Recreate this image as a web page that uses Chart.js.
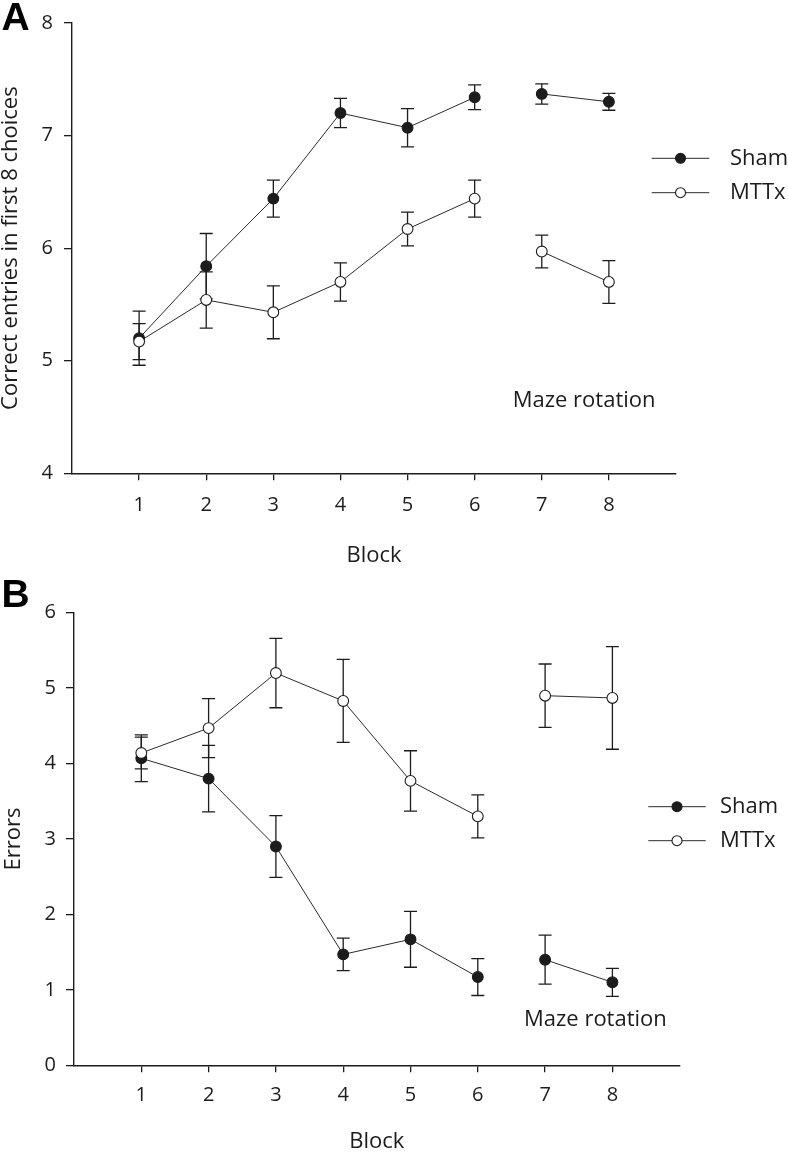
<!DOCTYPE html>
<html>
<head>
<meta charset="utf-8">
<script src="https://cdn.jsdelivr.net/npm/chart.js@4.4.0/dist/chart.umd.min.js"></script>
<style>
body { margin: 0; background: #fff; }
#wrap { position: relative; width: 788px; height: 1152px; }
canvas { position: absolute; left: 0; }
</style>
</head>
<body>
<div id="wrap">
<canvas id="chartA" width="788" height="576" style="top:0px"></canvas>
<canvas id="chartB" width="788" height="576" style="top:576px"></canvas>
</div>
<script>
// data
var blocks = [1, 2, 3, 4, 5, 6, 7, 8]
var seriesNames = ["Sham", "MTTx"]
var gapAfterBlock = 6 // line broken before the maze rotation blocks

// panel A: correct entries in first 8 choices (mean, sem)
var shamCorrect = [5.20, 5.84, 6.44, 7.20, 7.07, 7.34, 7.37, 7.30]
var shamCorrectSem = [0.24, 0.29, 0.165, 0.13, 0.17, 0.11, 0.09, 0.075]
var mttxCorrect = [5.17, 5.54, 5.43, 5.70, 6.17, 6.44, 5.97, 5.70]
var mttxCorrectSem = [0.16, 0.25, 0.235, 0.17, 0.15, 0.165, 0.145, 0.19]

// panel B: errors (mean, sem)
var shamErrors = [4.07, 3.80, 2.90, 1.47, 1.67, 1.17, 1.40, 1.10]
var shamErrorsSem = [0.31, 0.44, 0.41, 0.215, 0.37, 0.245, 0.325, 0.185]
var mttxErrors = [4.14, 4.47, 5.20, 4.83, 3.77, 3.30, 4.90, 4.87]
var mttxErrorsSem = [0.21, 0.39, 0.46, 0.55, 0.40, 0.285, 0.42, 0.68]

var ink = '#1c1c1c'
var font = "'Open Sans', sans-serif"

// error bars, drawn under lines and points
var errorBars = {
	id: 'errorBars',
	beforeDatasetsDraw: function (chart, args, opts) {
		var ctx = chart.ctx
		var yScale = chart.scales.y
		chart.data.datasets.forEach(function (ds, i) {
			var meta = chart.getDatasetMeta(i)
			ctx.save()
			ctx.strokeStyle = opts.color
			ctx.lineWidth = opts.width
			meta.data.forEach(function (pt, j) {
				var v = ds.data[j].y
				var e = ds.errors[j]
				var top = yScale.getPixelForValue(v + e)
				var bot = yScale.getPixelForValue(v - e)
				ctx.beginPath()
				ctx.moveTo(pt.x, top)
				ctx.lineTo(pt.x, bot)
				ctx.moveTo(pt.x - opts.cap, top)
				ctx.lineTo(pt.x + opts.cap, top)
				ctx.moveTo(pt.x - opts.cap, bot)
				ctx.lineTo(pt.x + opts.cap, bot)
				ctx.stroke()
			})
			ctx.restore()
		})
	}
}

// legend with a line through the marker
var lineLegend = {
	id: 'lineLegend',
	afterDraw: function (chart, args, opts) {
		var ctx = chart.ctx
		chart.data.datasets.forEach(function (ds, k) {
			var y = opts.y + k * opts.rowGap
			var cx = opts.x + opts.lineLength / 2
			ctx.save()
			ctx.strokeStyle = ds.borderColor
			ctx.lineWidth = ds.borderWidth
			ctx.beginPath()
			ctx.moveTo(opts.x, y)
			ctx.lineTo(opts.x + opts.lineLength, y)
			ctx.stroke()
			ctx.beginPath()
			ctx.arc(cx, y, opts.radius, 0, Math.PI * 2)
			ctx.fillStyle = ds.pointBackgroundColor
			ctx.fill()
			ctx.lineWidth = ds.pointBorderWidth
			ctx.strokeStyle = ds.pointBorderColor
			ctx.stroke()
			ctx.fillStyle = ink
			ctx.font = opts.font
			ctx.textBaseline = 'middle'
			ctx.fillText(ds.label, opts.textX, y)
			ctx.restore()
		})
	}
}

// free text: panel letter and the maze rotation note
var notes = {
	id: 'notes',
	afterDraw: function (chart, args, opts) {
		var ctx = chart.ctx
		opts.items.forEach(function (n) {
			ctx.save()
			ctx.fillStyle = n.color || ink
			ctx.font = n.font
			ctx.textBaseline = 'alphabetic'
			ctx.fillText(n.text, n.x, n.y)
			ctx.restore()
		})
	}
}

function dataset(label, values, sems, fill, order) {
	return {
		label: label,
		data: blocks.map(function (b, i) { return { x: b, y: values[i] } }),
		errors: sems,
		order: order,
		borderColor: '#2a2a2a',
		borderWidth: 1,
		pointRadius: 5.4,
		pointBackgroundColor: fill,
		pointBorderColor: ink,
		pointBorderWidth: 1.1,
		segment: {
			borderColor: function (c) {
				return blocks[c.p0DataIndex] === gapAfterBlock ? 'rgba(0,0,0,0)' : undefined
			}
		}
	}
}

function panel(canvasId, o) {
	var ctxL = document.getElementById(canvasId).getContext('2d')
	return new Chart(ctxL, {
		type: 'line',
		data: {
			datasets: [
				dataset(seriesNames[0], o.sham, o.shamSem, ink, 1),
				dataset(seriesNames[1], o.mttx, o.mttxSem, '#ffffff', 0)
			]
		},
		options: {
			responsive: false,
			animation: false,
			devicePixelRatio: 1,
			layout: { padding: o.padding },
			plugins: {
				legend: { display: false },
				tooltip: { enabled: false },
				errorBars: { color: ink, width: 1.3, cap: 6.5 },
				lineLegend: o.legend,
				notes: { items: o.notes }
			},
			scales: {
				x: {
					type: 'linear',
					min: 0,
					max: 9,
					afterBuildTicks: function (s) {
						s.ticks = s.ticks.filter(function (t) { return t.value >= 1 && t.value <= 8 })
					},
					afterFit: function (s) { s.height = o.xHeight },
					ticks: { stepSize: 1, color: ink, padding: o.xTickPad, font: { family: font, size: 20 } },
					grid: { drawOnChartArea: false, drawTicks: true, tickLength: 7, color: ink, lineWidth: 1.3 },
					border: { color: ink, width: 1.4 },
					title: { display: true, text: 'Block', color: ink, font: { family: font, size: 22 }, padding: { top: 0, bottom: o.xTitlePad } }
				},
				y: {
					min: o.yMin,
					max: o.yMax,
					afterFit: function (s) { s.width = o.yWidth },
					ticks: { stepSize: 1, color: ink, padding: o.yTickPad, font: { family: font, size: 20 } },
					grid: { drawOnChartArea: false, drawTicks: true, tickLength: 8, color: ink, lineWidth: 1.3 },
					border: { color: ink, width: 1.4 },
					title: { display: true, text: o.yTitle, color: ink, font: { family: font, size: 22 }, padding: { top: o.yTitlePad, bottom: 0 } }
				}
			}
		},
		plugins: [errorBars, lineLegend, notes]
	})
}

panel('chartA', {
	sham: shamCorrect, shamSem: shamCorrectSem,
	mttx: mttxCorrect, mttxSem: mttxCorrectSem,
	yMin: 4, yMax: 8,
	yTitle: 'Correct entries in first 8 choices',
	padding: { top: 22, right: 112, left: 0, bottom: 0 },
	yWidth: 72, xHeight: 102.7,
	xTickPad: 12.8, yTickPad: 11, xTitlePad: 7, yTitlePad: -2.7,
	legend: { x: 651.7, y: 158.3, rowGap: 34.4, lineLength: 57.6, radius: 5, textX: 730, font: '22px ' + font },
	notes: [
		{ text: 'A', x: 1.5, y: 30, font: "bold 39px 'Liberation Sans', Arial, sans-serif", color: '#000' },
		{ text: 'Maze rotation', x: 512.7, y: 407, font: '22px ' + font }
	]
})

panel('chartB', {
	sham: shamErrors, shamSem: shamErrorsSem,
	mttx: mttxErrors, mttxSem: mttxErrorsSem,
	yMin: 0, yMax: 6,
	yTitle: 'Errors',
	padding: { top: 36.7, right: 108.3, left: 0, bottom: 0 },
	yWidth: 74, xHeight: 86.7,
	xTickPad: 10.8, yTickPad: 10, xTitlePad: -3.2, yTitlePad: 1,
	legend: { x: 648.3, y: 230.7, rowGap: 34, lineLength: 57.4, radius: 5, textX: 720, font: '22px ' + font },
	notes: [
		{ text: 'B', x: 1.5, y: 31, font: "bold 39px 'Liberation Sans', Arial, sans-serif", color: '#000' },
		{ text: 'Maze rotation', x: 524, y: 450, font: '22px ' + font }
	]
})
</script>
</body>
</html>
